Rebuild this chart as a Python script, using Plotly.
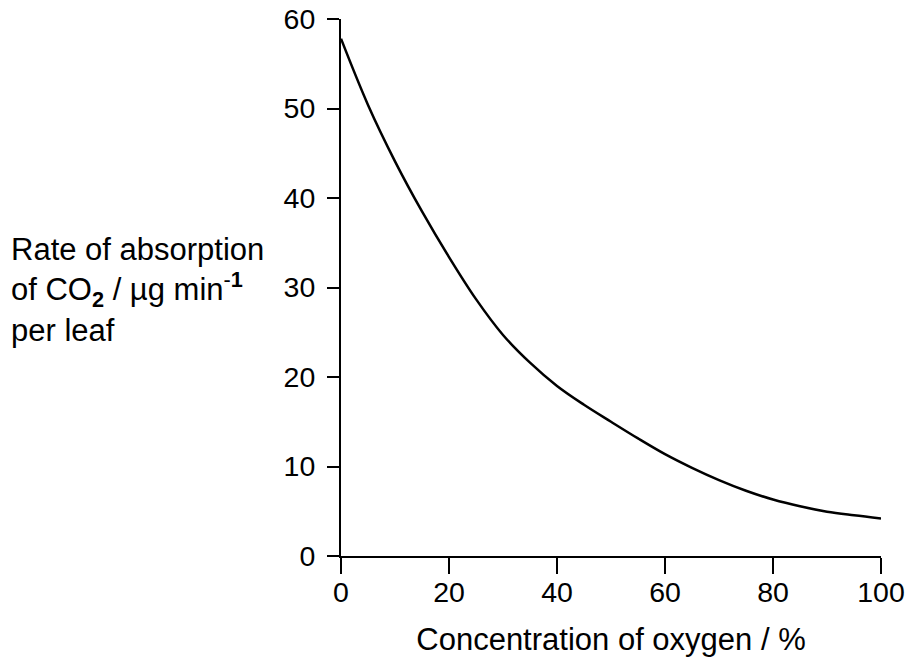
import plotly.graph_objects as go

oxygen_pct = [0, 5, 10, 15, 20, 25, 30, 35, 40, 45, 50, 55, 60, 65, 70, 75, 80, 85, 90, 95, 100]
co2_rate = [57.8, 50.4, 44.1, 38.5, 33.4, 28.7, 24.7, 21.6, 19.0, 16.9, 15.0, 13.14,
            11.38, 9.85, 8.48, 7.29, 6.31, 5.55, 4.95, 4.55, 4.2]

x_ticks = [0, 20, 40, 60, 80, 100]
y_ticks = [0, 10, 20, 30, 40, 50, 60]

x_title = "Concentration of oxygen / %"
y_title_lines = ["Rate of absorption",
                 "of CO<sub><b>2</b></sub> / µg min<sup>-<b>1</b></sup>",
                 "per leaf"]

FONT = "Liberation Sans, Arial, Helvetica, sans-serif"

fig = go.Figure()
fig.add_trace(go.Scatter(
    x=oxygen_pct, y=co2_rate, mode="lines",
    line=dict(color="black", width=2.5, shape="spline", smoothing=1.0),
    showlegend=False, hoverinfo="skip",
))

W, H = 910, 657
L, R, T, B = 341, 29, 19, 101

fig.update_layout(
    width=W, height=H,
    margin=dict(l=L, r=R, t=T, b=B, autoexpand=False),
    paper_bgcolor="white", plot_bgcolor="white",
    font=dict(family=FONT, color="black", size=28.5),
    showlegend=False,
)
fig.update_xaxes(
    range=[0, 100], tickvals=x_ticks, ticktext=[str(v) for v in x_ticks],
    showline=True, linecolor="black", linewidth=2,
    ticks="outside", ticklen=16, tickwidth=2, tickcolor="black",
    showgrid=False, zeroline=False, automargin=False,
    tickfont=dict(size=28.5, family=FONT, color="black"),
    ticklabelstandoff=-6,
    title=dict(text=x_title, font=dict(size=31, family=FONT, color="black"), standoff=22),
)
fig.update_yaxes(
    range=[0, 60], tickvals=y_ticks, ticktext=[str(v) for v in y_ticks],
    showline=True, linecolor="black", linewidth=2,
    ticks="outside", ticklen=12, tickwidth=2, tickcolor="black",
    showgrid=False, zeroline=False, automargin=False,
    tickfont=dict(size=28.5, family=FONT, color="black"),
    ticklabelstandoff=6,
)

plot_w = W - L - R
plot_h = H - T - B
fig.add_annotation(
    text="<br>".join(y_title_lines), xref="paper", yref="paper",
    x=(9 - L) / plot_w, y=(H - B - 289.5) / plot_h,
    xanchor="left", yanchor="middle", showarrow=False,
    font=dict(size=31, family=FONT, color="black"), align="left",
)

fig.write_html("out.html")
